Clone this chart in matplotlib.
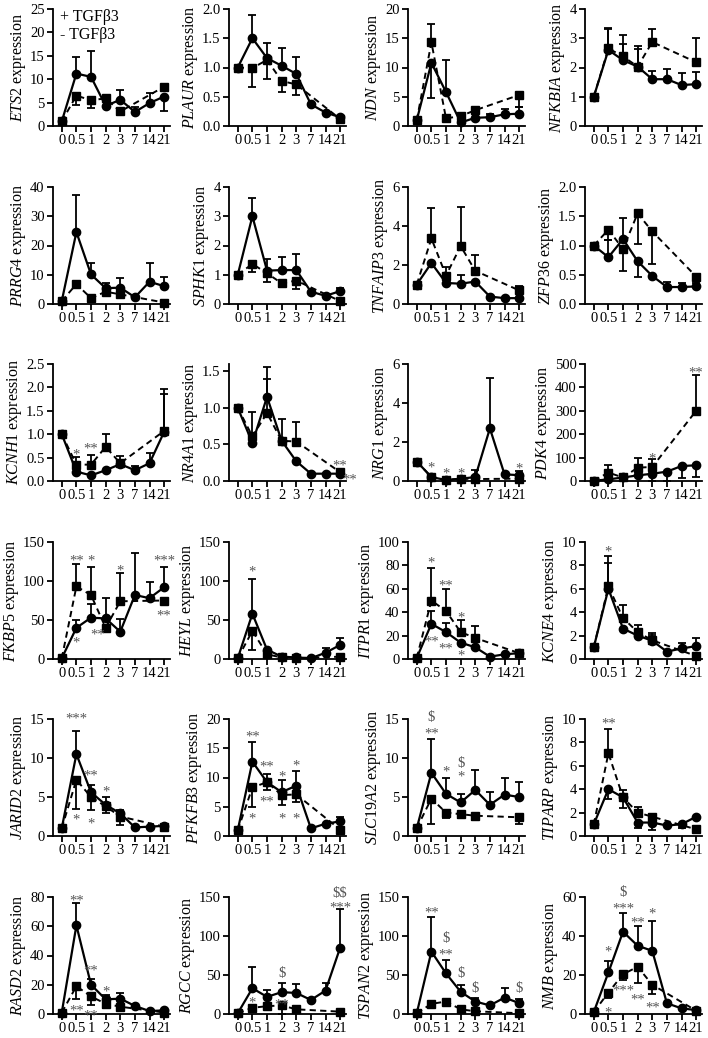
import numpy as np
import matplotlib
matplotlib.use("Agg")
import matplotlib.pyplot as plt

plt.rcParams['font.family'] = ['Liberation Serif', 'DejaVu Serif']
plt.rcParams['mathtext.fontset'] = 'custom'
plt.rcParams['mathtext.it'] = 'Liberation Serif:italic'
plt.rcParams['mathtext.rm'] = 'Liberation Serif'

N = np.nan
days = ["0", "0.5", "1", "2", "3", "7", "14", "21"]
legend_labels = ["+ TGFβ3", "- TGFβ3"]

genes = ["ETS2", "PLAUR", "NDN", "NFKBIA",
         "PRRG4", "SPHK1", "TNFAIP3", "ZFP36",
         "KCNH1", "NR4A1", "NRG1", "PDK4",
         "FKBP5", "HEYL", "ITPR1", "KCNE4",
         "JARID2", "PFKFB3", "SLC19A2", "TIPARP",
         "RASD2", "RGCC", "TSPAN2", "NMB"]

# y-axis max and tick step per panel
ymax = [25, 2.0, 20, 4, 40, 4, 6, 2.0, 2.5, 1.6, 6, 500,
        150, 150, 100, 10, 15, 20, 15, 10, 80, 150, 150, 60]
ystep = [5, 0.5, 5, 1, 10, 1, 2, 0.5, 0.5, 0.5, 2, 100,
         50, 50, 20, 2, 5, 5, 5, 2, 20, 50, 50, 20]

# +TGFb3 (solid, circles) / -TGFb3 (dashed, squares); signed errors (+ up, - down)
ETS2_plus = [1, 11.2, 10.5, 4.3, 5.6, 3.0, 4.9, 6.3]
ETS2_plus_err = [0, 3.6, 5.5, 0, 2.1, 1.0, 2.1, -3.1]
ETS2_minus = [1, 6.5, 5.5, 5.9, 3.1, N, N, 8.4]
ETS2_minus_err = [0, -2.0, -1.7, 0, -0.8, 0, 0, 0]
ETS2_sig = []

PLAUR_plus = [1, 1.5, 1.16, 1.03, 0.89, 0.37, 0.23, 0.15]
PLAUR_plus_err = [0, 0.39, 0.26, 0.30, 0.29, 0, 0, 0]
PLAUR_minus = [1, 0.99, 1.13, 0.77, 0.71, N, N, 0.12]
PLAUR_minus_err = [0, -0.32, -0.33, -0.19, -0.18, 0, 0, 0]
PLAUR_sig = []

NDN_plus = [1, 10.8, 5.8, 0.6, 1.4, 1.5, 2.0, 2.1]
NDN_plus_err = [0, -6.0, 5.4, 0, 0, 0.5, 0.9, 1.2]
NDN_minus = [1, 14.3, 1.3, 1.7, 2.7, N, N, 5.3]
NDN_minus_err = [0, 3.2, 0, 0, 0, 0, 0, -2.0]
NDN_sig = []

NFKBIA_plus = [1, 2.6, 2.25, 2.03, 1.6, 1.6, 1.4, 1.43]
NFKBIA_plus_err = [0, 0.75, 0.55, 0.6, 0.27, 0.35, 0.4, 0.43]
NFKBIA_minus = [1, 2.65, 2.38, 2.03, 2.87, N, N, 2.18]
NFKBIA_minus_err = [0, 0.68, 0.73, 0.72, 0.45, 0, 0, 0.82]
NFKBIA_sig = []

PRRG4_plus = [1, 24.6, 10.1, 5.4, 5.6, 2.3, 7.6, 6.1]
PRRG4_plus_err = [0, 12.6, 3.8, 1.8, 3.2, 0, 6.3, 3.1]
PRRG4_minus = [1, 6.8, 2.0, 4.2, 3.3, N, N, 0.5]
PRRG4_minus_err = [0, -1.5, 0, 0, 0, 0, 0, 0]
PRRG4_sig = []

SPHK1_plus = [1, 3.0, 1.14, 1.16, 1.16, 0.42, 0.28, 0.44]
SPHK1_plus_err = [0, 0.63, 0.39, 0.46, 0.55, 0, 0, 0.12]
SPHK1_minus = [1, 1.37, 1.05, 0.71, 0.8, N, N, 0.1]
SPHK1_minus_err = [0, -0.27, -0.31, -0.14, -0.3, 0, 0, 0]
SPHK1_sig = []

TNFAIP3_plus = [1, 2.1, 1.08, 1.04, 1.15, 0.38, 0.3, 0.3]
TNFAIP3_plus_err = [0, 0, 0, 0.46, 0, 0, 0, 0]
TNFAIP3_minus = [1, 3.36, 1.46, 2.97, 1.7, N, N, 0.7]
TNFAIP3_minus_err = [0, 1.57, 0.46, 2.03, 0.8, 0, 0, 0.2]
TNFAIP3_sig = []

ZFP36_plus = [1, 0.8, 1.11, 0.73, 0.48, 0.29, 0.29, 0.3]
ZFP36_plus_err = [0, 0.29, 0.36, -0.26, 0, 0.08, 0.07, 0.06]
ZFP36_minus = [1, 1.27, 0.94, 1.55, 1.24, N, N, 0.47]
ZFP36_minus_err = [0, -0.18, -0.37, -0.52, -0.55, 0, 0, 0]
ZFP36_sig = []

KCNH1_plus = [1, 0.2, 0.12, 0.23, 0.36, 0.23, 0.38, 1.05]
KCNH1_plus_err = [0, 0, 0, 0, 0, 0.1, 0.22, 0.8]
KCNH1_minus = [1, 0.35, 0.35, 0.73, 0.38, N, N, 1.07]
KCNH1_minus_err = [0, 0.17, 0.2, 0.28, 0.15, 0, 0, 0.9]
KCNH1_sig = [(1, 0.63, "*"), (2, 0.76, "**")]

NR4A1_plus = [1, 0.52, 1.15, 0.55, 0.27, 0.1, 0.1, 0.1]
NR4A1_plus_err = [0, 0.43, 0.41, 0.3, 0, 0, 0, 0]
NR4A1_minus = [1, 0.61, 0.93, 0.55, 0.54, N, N, 0.12]
NR4A1_minus_err = [0, 0, 0.46, 0, 0.27, 0, 0, 0.05]
NR4A1_sig = [(7, 0.26, "**"), (7.65, 0.06, "**")]

NRG1_plus = [1, 0.2, 0.05, 0.12, 0.2, 2.7, 0.34, 0.3]
NRG1_plus_err = [0, 0, 0, 0, 0.35, 2.6, 0, 0]
NRG1_minus = [1, 0.2, 0.05, 0.12, 0.1, N, N, 0.12]
NRG1_minus_err = [0, 0, 0, 0, 0, 0, 0, 0.4]
NRG1_sig = [(1, 0.86, "*"), (2, 0.54, "*"), (3, 0.54, "*"), (7, 0.8, "*")]

PDK4_plus = [1, 7, 15, 24, 31, 40, 64, 67]
PDK4_plus_err = [0, 0, 0, 0, -30, -38, -52, -51]
PDK4_minus = [1, 36, 15, 57, 60, N, N, 300]
PDK4_minus_err = [0, 32, 0, 43, 33, 0, 0, 152]
PDK4_sig = [(4, 112, "*"), (7, 478, "**")]

FKBP5_plus = [1, 40, 53, 52, 35, 82, 78, 92]
FKBP5_plus_err = [0, 10, 17, 26, 16, 54, 21, 26]
FKBP5_minus = [1, 93, 82, 40, 74, N, N, 75]
FKBP5_minus_err = [0, 29, 36, 0, 36, 0, 0, 0]
FKBP5_sig = [(1, 131, "**"), (2, 131, "*"), (4, 118, "*"), (7, 130, "***"),
             (1, 25, "*"), (2.45, 36, "**"), (7, 60, "**")]

HEYL_plus = [1, 58, 12, 3, 2, 1, 8, 18]
HEYL_plus_err = [0, 44, 0, 0, 0, 0, 6, 9]
HEYL_minus = [1, 36, 6, 2, 1, N, N, 3]
HEYL_minus_err = [0, -25, 0, 0, 0, 0, 0, 0]
HEYL_sig = [(1, 116, "*")]

ITPR1_plus = [1, 30, 23, 14, 10, 2, 4, 5]
ITPR1_plus_err = [0, 11, 8, 0, 0, 0, 0, 0]
ITPR1_minus = [1, 50, 41, 23, 18, N, N, 5]
ITPR1_minus_err = [0, 27.5, 19, 10, 10, 0, 0, 0]
ITPR1_sig = [(1, 85, "*"), (2, 66, "**"), (3, 38, "*"),
             (1, 18, "**"), (2, 12, "**"), (3, 6, "*")]

KCNE4_plus = [1, 6.0, 2.6, 2.0, 1.56, 0.63, 0.9, 1.1]
KCNE4_plus_err = [0, 2.2, 0, 0, 0.5, 0, 0.45, 0.67]
KCNE4_minus = [1, 6.2, 3.5, 2.3, 1.6, N, N, 0.26]
KCNE4_minus_err = [0, 2.6, 1.1, 0.6, 0.6, 0, 0, 0]
KCNE4_sig = [(1, 9.5, "*")]

JARID2_plus = [1, 10.5, 5.6, 4.0, 2.9, 1.1, 1.2, 1.3]
JARID2_plus_err = [0, 3.0, 0.9, 1.0, 0.4, 0, 0, 0]
JARID2_minus = [1, 7.2, 5.0, 3.8, 2.5, N, N, 1.2]
JARID2_minus_err = [0, -3.7, -1.7, -0.9, -1.1, 0, 0, 0]
JARID2_sig = [(1, 15.5, "***"), (2, 8.2, "**"), (3, 6.1, "*"),
              (1, 2.5, "*"), (2, 2.0, "*")]

PFKFB3_plus = [1, 12.7, 9.2, 7.5, 8.6, 1.3, 2.1, 2.5]
PFKFB3_plus_err = [0, 3.4, 1.4, 2.0, 2.5, 0, 0, 0.8]
PFKFB3_minus = [1, 8.3, 9.2, 7.0, 7.1, N, N, 1.1]
PFKFB3_minus_err = [0, -3.3, -1.4, -1.7, -1.3, 0, 0, 0]
PFKFB3_sig = [(1, 17.5, "**"), (2, 12.5, "**"), (3, 10.8, "*"), (4, 12.6, "*"),
              (1, 3.5, "*"), (2, 6.5, "**"), (3, 3.5, "*"), (4, 3.5, "*")]

SLC19A2_plus = [1, 8.1, 5.4, 4.3, 5.9, 4.0, 5.3, 5.0]
SLC19A2_plus_err = [0, 4.3, 2.1, 1.1, 2.6, 1.6, 2.1, 1.9]
SLC19A2_minus = [1, 4.8, 3.0, 2.8, 2.6, N, N, 2.4]
SLC19A2_minus_err = [0, -3.3, -0.7, -0.5, -0.5, 0, 0, -0.9]
SLC19A2_sig = [(1, 15.3, "$"), (1, 13.6, "**"), (2, 8.7, "*"), (3, 9.5, "$"), (3, 8.0, "*")]

TIPARP_plus = [1, 4.0, 3.3, 1.15, 1.15, 0.9, 1.0, 1.65]
TIPARP_plus_err = [0, -0.8, 0.6, -0.5, -0.6, 0, -0.35, 0]
TIPARP_minus = [1, 7.07, 3.3, 2.0, 1.65, N, N, 0.57]
TIPARP_minus_err = [0, 2.1, -0.9, 0.45, 0.2, 0, 0, 0]
TIPARP_sig = [(1, 9.9, "**")]

RASD2_plus = [1, 60.6, 20, 10, 10.5, 5.5, 2, 2.5]
RASD2_plus_err = [0, 15.4, 4, 3, 4, 0, 0, 0]
RASD2_minus = [1, 19, 12, 7, 5, N, N, 1]
RASD2_minus_err = [0, -9, -6, -3, 0, 0, 0, 0]
RASD2_sig = [(1, 80, "**"), (2, 32, "**"), (3, 18, "*"), (1, 5, "**"), (2, 1.5, "**")]

RGCC_plus = [1, 33, 22, 28, 27, 18, 30, 85]
RGCC_plus_err = [0, 27, 9, 12, 11, 3, 10, 49]
RGCC_minus = [1, 8, 10, 11, 6, N, N, 3]
RGCC_minus_err = [0, 0, 0, -11, 0, 0, 0, 0]
RGCC_sig = [(1, 19, "*"), (3, 53, "$"), (3, 17, "**"), (7, 156, "$$"), (7, 141, "***")]

TSPAN2_plus = [1, 80, 52, 28.5, 16, 11, 21, 14]
TSPAN2_plus_err = [0, 45, 17, 8.5, 4, 0, 12, 5]
TSPAN2_minus = [1, 13, 16, 6, 3.5, N, N, 1]
TSPAN2_minus_err = [0, 0, 0, 0, 0, 0, 0, 0]
TSPAN2_sig = [(1, 135, "**"), (2, 98, "$"), (2, 81, "**"), (3, 53, "$"), (4, 34, "$"), (7, 34, "$")]

NMB_plus = [1, 21.3, 42.2, 35, 32.4, 5.5, 2.9, 2]
NMB_plus_err = [0, 5.7, 9.4, 10, 15.3, 0, 0, 0]
NMB_minus = [1, 11, 20.4, 24.2, 15, N, N, 1.7]
NMB_minus_err = [0, -3, -3, -8.5, -4.8, 0, 0, 0]
NMB_sig = [(1, 34, "*"), (2, 63, "$"), (2, 56, "***"), (3, 48.6, "**"), (4, 53, "*"),
           (1, 2.5, "*"), (2, 14, "***"), (3, 9, "**"), (4, 5, "**")]

# ---------------- layout ----------------
W, H = 708, 1038
fig = plt.figure(figsize=(W / 100, H / 100), dpi=100)
col_left = [53, 229, 408, 585]
row_bottom = [126, 304, 481, 659, 836, 1014]
AW, AH = 117, 117

x = np.arange(len(days))
G = globals()


def draw_err(ax, xs, ys, errs):
    ys = np.asarray(ys, float)
    errs = np.asarray(errs, float)
    up = np.where(errs > 0, errs, 0)
    dn = np.where(errs < 0, -errs, 0)
    for mask, lo, hi in ((up > 0, np.zeros_like(up), up), (dn > 0, dn, np.zeros_like(dn))):
        if mask.any():
            ax.errorbar(xs[mask], ys[mask], yerr=[lo[mask], hi[mask]], fmt='none',
                        ecolor='black', elinewidth=1.3, capsize=3.2, capthick=1.3,
                        zorder=2, clip_on=False)


for i, g in enumerate(genes):
    r, c = divmod(i, 4)
    ax = fig.add_axes([col_left[c] / W, 1 - row_bottom[r] / H, AW / W, AH / H])
    plus = np.asarray(G[g + "_plus"], float)
    minus = np.asarray(G[g + "_minus"], float)
    draw_err(ax, x, plus, G[g + "_plus_err"])
    draw_err(ax, x, minus, G[g + "_minus_err"])
    m = ~np.isnan(minus)
    ax.plot(x[m], minus[m], linestyle=(0, (3.2, 2.2)), color='black', lw=1.4,
            marker='s', ms=6.0, mfc='black', mec='black', zorder=3, clip_on=False)
    ax.plot(x, plus, linestyle='-', color='black', lw=1.6,
            marker='o', ms=6.0, mfc='black', mec='black', zorder=4, clip_on=False)

    for (xi, yi, t) in G[g + "_sig"]:
        dy = -2.8 if t.startswith("*") else -0.8
        ax.annotate(t, (xi, yi), xytext=(0, dy), textcoords='offset points',
                    ha='center', va='center', fontsize=10.5, color='#555555',
                    annotation_clip=False, zorder=5, parse_math=False)

    ax.set_xlim(-0.6, 7.4)
    ax.set_ylim(0, ymax[i])
    ax.set_xticks(x)
    ax.set_xticklabels(days)
    ticks = np.arange(0, ymax[i] + 1e-9, ystep[i])
    ax.set_yticks(ticks)
    if ystep[i] < 1:
        ax.set_yticklabels([f"{t:.1f}" for t in ticks])
    else:
        ax.set_yticklabels([f"{t:g}" for t in ticks])
    for s in ('top', 'right'):
        ax.spines[s].set_visible(False)
    for s in ('left', 'bottom'):
        ax.spines[s].set_linewidth(1.3)
    ax.tick_params(direction='out', length=4, width=1.3, labelsize=10.5, pad=2)
    ax.set_ylabel(r"$\mathit{" + g + r"}$ expression", fontsize=11.5, labelpad=1.5)

    if i == 0:
        ax.text(0.06, 0.93, legend_labels[0], transform=ax.transAxes, fontsize=11.5,
                ha='left', va='center')
        ax.text(0.06, 0.78, legend_labels[1], transform=ax.transAxes, fontsize=11.5,
                ha='left', va='center')

fig.savefig("out.png", dpi=100)
